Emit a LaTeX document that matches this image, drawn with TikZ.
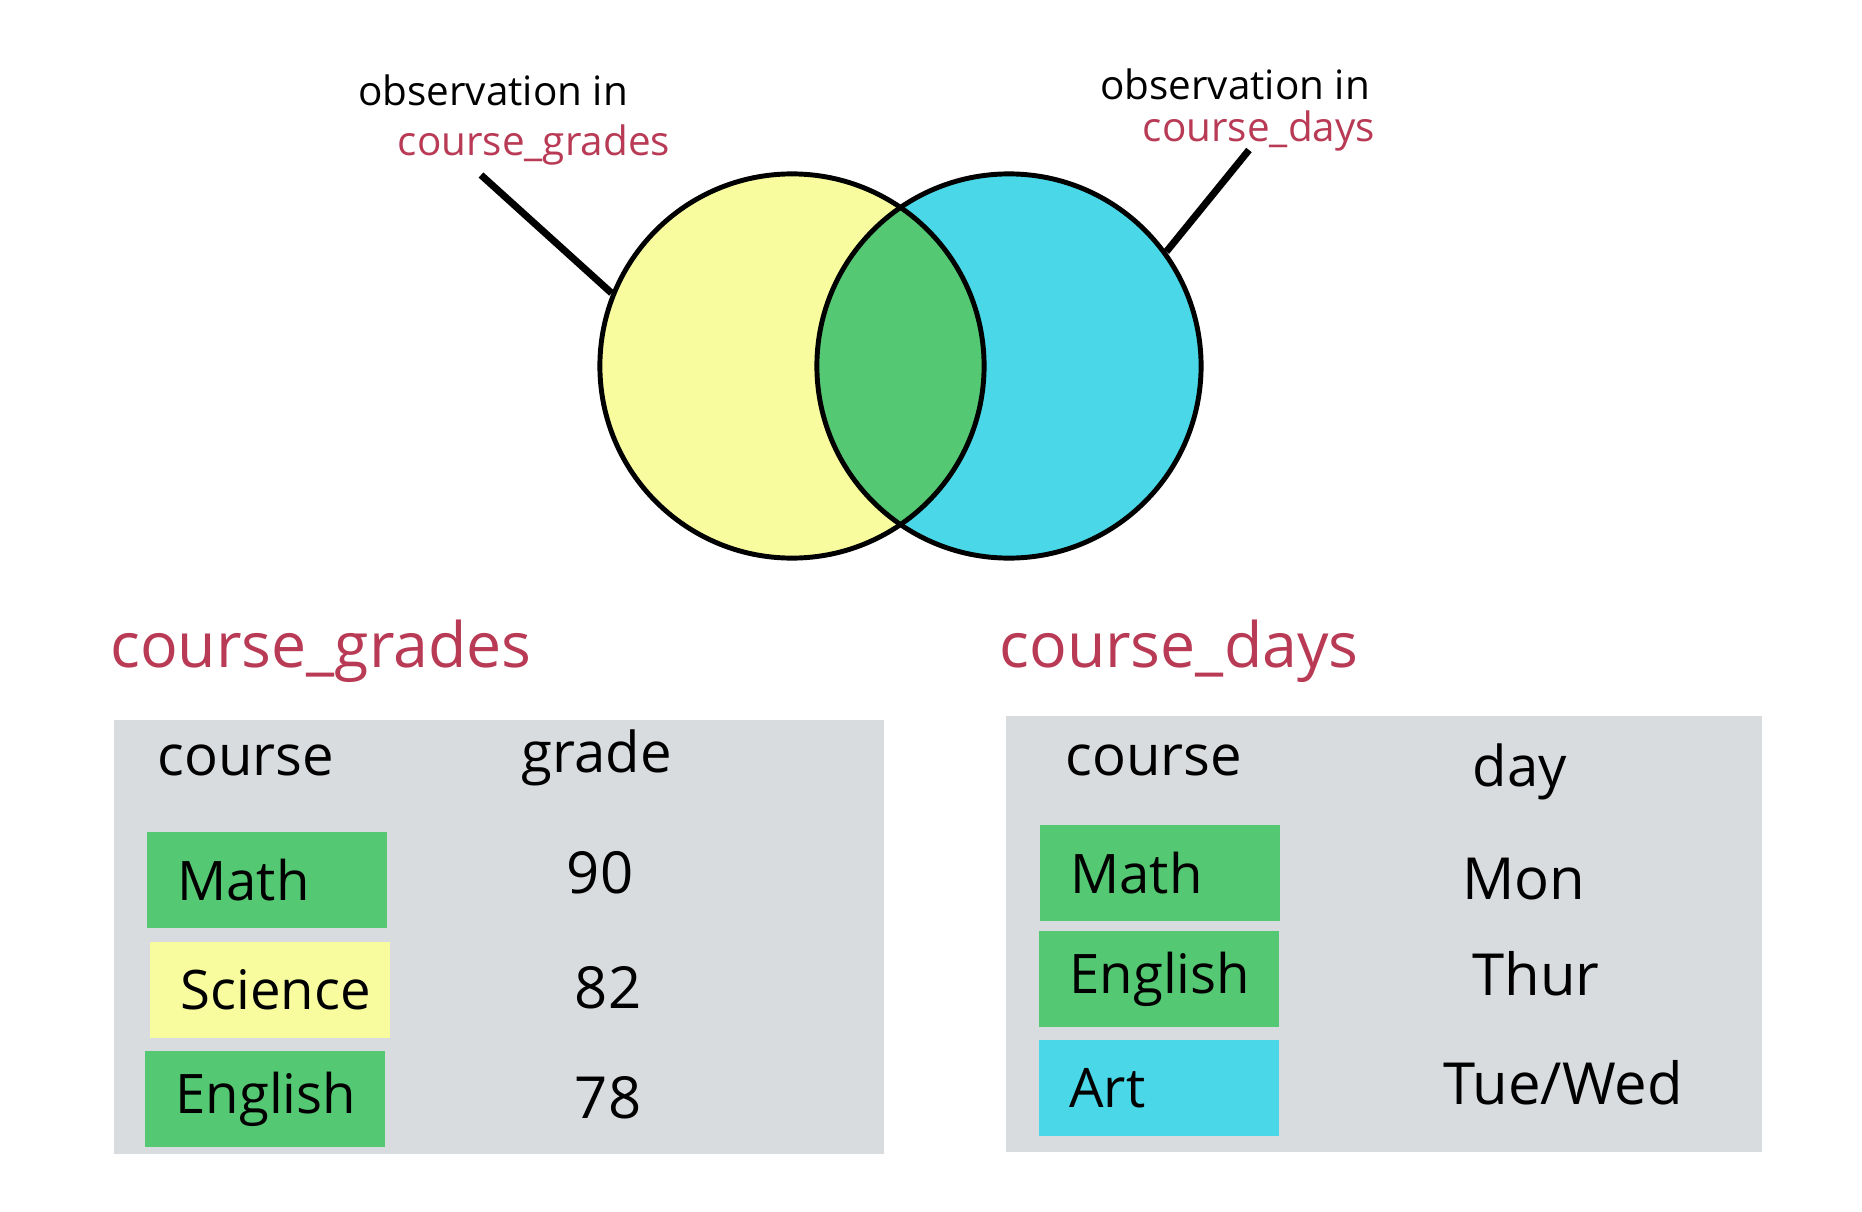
\documentclass[tikz,border=0pt]{standalone}
\usepackage{fontspec}
\setmainfont{Open Sans}
\usetikzlibrary{positioning}
\definecolor{vennYellow}{HTML}{F8FC9E}
\definecolor{vennCyan}{HTML}{4AD8E8}
\definecolor{vennGreen}{HTML}{54C872}
\definecolor{tableGray}{HTML}{D8DCDF}
\definecolor{labelRed}{HTML}{B83A55}
\tikzset{
    vennSet/.style={circle, draw=black, line width=1.4pt, minimum size=3.84cm, inner sep=0pt},
    pointer/.style={line width=2pt, black},
    obsText/.style={font=\fontsize{11.5}{13}\selectfont, inner sep=0pt},
    obsName/.style={font=\fontsize{11.5}{13}\selectfont, text=labelRed, inner sep=0pt},
    tableTitle/.style={font=\fontsize{17.8}{21}\selectfont, text=labelRed, inner sep=0pt},
    tableBg/.style={fill=tableGray, inner sep=0pt},
    headText/.style={font=\fontsize{16}{19}\selectfont, inner sep=0pt},
    cellBox/.style={inner xsep=0.3cm, inner ysep=0pt, text width=1.79cm, align=left,
        minimum height=0.95cm, font=\fontsize{15.5}{18}\selectfont},
    valText/.style={font=\fontsize{16.5}{19}\selectfont, inner sep=0pt},
}
\newcommand{\drawCell}[4]{
    \node[cellBox, fill=#2] (#1) at (#3) {#4};
}

\begin{document}
\begin{tikzpicture}[x=0.01cm, y=-0.01cm]
    \useasboundingbox (0,0) rectangle (1862,1212);

    % Venn diagram
    \fill[vennYellow] (792,366) circle[radius=1.92cm];
    \fill[vennCyan] (1009,366) circle[radius=1.92cm];
    \begin{scope}
        \clip (792,366) circle[radius=1.92cm];
        \fill[vennGreen] (1009,366) circle[radius=1.92cm];
    \end{scope}
    \node[vennSet] (grades) at (792,366) {};
    \node[vennSet] (days) at (1009,366) {};

    % pointer labels
    \node[obsText] (obsL) at (493,90) {observation in};
    \node[obsName] (obsLname) at (534,145) {course\_grades};
    \node[obsText] (obsR) at (1235,84) {observation in};
    \node[obsName] (obsRname) at (1259,131) {course\_days};
    \coordinate (tipL) at (481,175);
    \coordinate (tipR) at (1249,150);
    \draw[pointer] (tipL) -- (grades.158);
    \draw[pointer] (tipR) -- (days.36);

    % course_grades table
    \node[tableTitle] (titleL) at (321,651) {course\_grades};
    \node[tableBg, minimum width=7.7cm, minimum height=4.34cm] (gradesTab) at (499,937) {};
    \node[headText] (courseL) at (246,760) {course};
    \node[headText] (gradeH) at (597,758) {grade};
    \drawCell{mathL}{vennGreen}{267,880}{Math}
    \drawCell{sciL}{vennYellow}{270,990}{Science}
    \drawCell{engL}{vennGreen}{265,1099}{English}
    \node[valText] (v90) at (600,873) {90};
    \node[valText] (v82) at (608,988) {82};
    \node[valText] (v78) at (608,1098) {78};

    % course_days table
    \node[tableTitle] (titleR) at (1179,651) {course\_days};
    \node[tableBg, minimum width=7.55cm, minimum height=4.36cm] (daysTab) at (1384,934) {};
    \node[headText] (courseR) at (1154,760) {course};
    \node[headText] (dayH) at (1520,772) {day};
    \drawCell{mathR}{vennGreen}{1160,873}{Math}
    \drawCell{engR}{vennGreen}{1159,979}{English}
    \drawCell{artR}{vennCyan}{1159,1088}{Art}
    \node[valText] (vMon) at (1524,879) {Mon};
    \node[valText] (vThu) at (1536,974) {Thur};
    \node[valText] (vTue) at (1563,1083) {Tue/Wed};
\end{tikzpicture}
\end{document}
